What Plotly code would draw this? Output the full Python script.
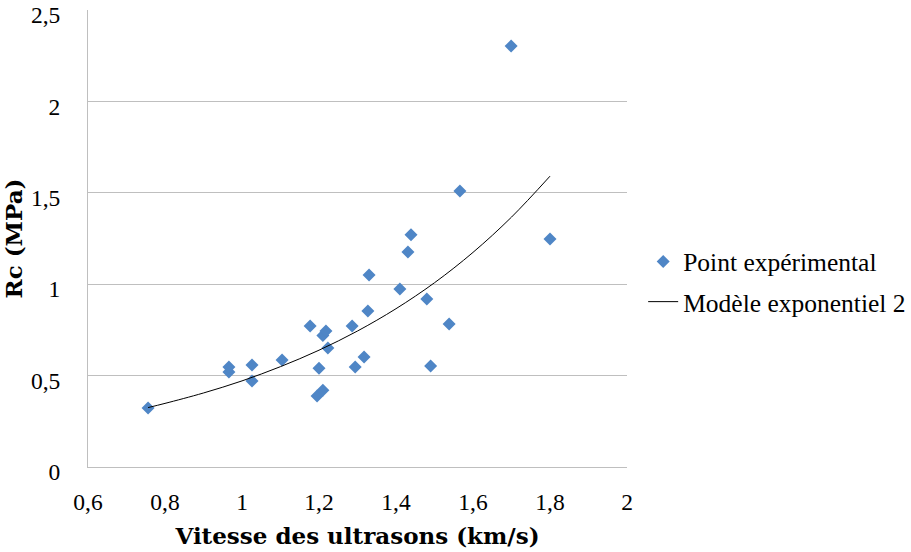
import plotly.graph_objects as go

# Experimental points (km/s, MPa)
vitesse = [0.756, 0.966, 0.966, 1.026, 1.026, 1.104, 1.177, 1.200, 1.195, 1.210,
           1.210, 1.218, 1.223, 1.286, 1.294, 1.317, 1.327, 1.330, 1.410, 1.431,
           1.439, 1.480, 1.490, 1.538, 1.566, 1.699, 1.800]
rc = [0.323, 0.520, 0.547, 0.558, 0.470, 0.585, 0.771, 0.540, 0.388, 0.420,
      0.720, 0.744, 0.651, 0.771, 0.547, 0.602, 0.853, 1.050, 0.974, 1.176,
      1.270, 0.919, 0.553, 0.782, 1.510, 2.303, 1.247]

# Exponential model curve
model_x = [0.756, 0.8, 0.9, 1.0, 1.1, 1.2, 1.3, 1.4, 1.5, 1.6, 1.7, 1.8]
model_y = [0.325, 0.348, 0.405, 0.471, 0.549, 0.639, 0.744, 0.866, 1.008, 1.174, 1.367, 1.591]

x_ticks = [0.6, 0.8, 1.0, 1.2, 1.4, 1.6, 1.8, 2.0]
x_labels = ["0,6", "0,8", "1", "1,2", "1,4", "1,6", "1,8", "2"]
y_ticks = [0, 0.5, 1.0, 1.5, 2.0, 2.5]
y_labels = ["0", "0,5", "1", "1,5", "2", "2,5"]

FONT = "Liberation Serif, DejaVu Serif, serif"
TITLE_FONT = "DejaVu Serif, Liberation Serif, serif"

fig = go.Figure()
fig.add_trace(go.Scatter(
    x=vitesse, y=rc, mode="markers", name="Point expérimental",
    legendgroup="a",
    marker=dict(symbol="diamond", size=10, color="#4F86C6"),
))
fig.add_trace(go.Scatter(
    x=model_x, y=model_y, mode="lines", name="Modèle exponentiel 2",
    legendgroup="b",
    line=dict(color="#000000", width=1, shape="spline"),
))

fig.update_layout(
    width=911, height=552,
    margin=dict(l=88, r=284, t=10, b=85, autoexpand=False),
    paper_bgcolor="white", plot_bgcolor="white",
    font=dict(family=FONT, size=23.5, color="#000000"),
    showlegend=True,
    legend=dict(x=1.03, y=0.405, xanchor="left", yanchor="middle",
                font=dict(family=FONT, size=25.5), tracegroupgap=4,
                traceorder="grouped", itemwidth=30,
                bgcolor="rgba(0,0,0,0)"),
    xaxis=dict(
        range=[0.6, 2.0], tickvals=x_ticks, ticktext=x_labels,
        showgrid=False, zeroline=False, automargin=False,
        showline=True, linecolor="#BFBFBF", linewidth=1, ticks="",
        ticklabelstandoff=14, ticklabeloverflow="allow",
        title=dict(text="<b>Vitesse des ultrasons (km/s)</b>",
                   font=dict(family=TITLE_FONT, size=23), standoff=13),
    ),
    yaxis=dict(
        range=[0, 2.5], tickvals=y_ticks, ticktext=y_labels,
        showgrid=True, gridcolor="#BFBFBF", gridwidth=1, zeroline=False,
        automargin=False,
        showline=True, linecolor="#BFBFBF", linewidth=1, ticks="",
        ticklabelstandoff=22, ticklabeloverflow="allow", ticklabelshift=5,
        title=dict(text="<b>Rc (MPa)</b>",
                   font=dict(family=TITLE_FONT, size=23), standoff=14),
    ),
)

fig.write_html("out.html", config={"displayModeBar": False},
               post_script="document.body.style.margin='0';")
